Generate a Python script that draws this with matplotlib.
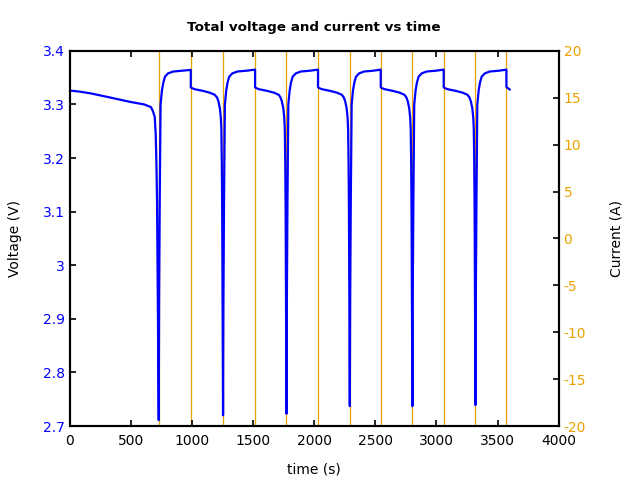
import matplotlib
matplotlib.use('Agg')
import matplotlib.pyplot as plt
from matplotlib.ticker import FuncFormatter

# voltage trace (time s, volts)
t_start = [0, 0, 80, 165, 330, 490, 610, 665, 681, 695, 703, 709, 714, 720, 725, 728]
v_start = [3.343, 3.326, 3.324, 3.321, 3.313, 3.305, 3.300, 3.295, 3.287, 3.277, 3.245, 3.19, 3.12, 2.935, 2.80, 2.711]

t_chg1 = [731, 736, 743, 754, 765, 779, 804, 845, 920, 990]
v_chg1 = [2.935, 3.12, 3.30, 3.326, 3.340, 3.352, 3.358, 3.3614, 3.363, 3.3645]
t_dis1 = [990, 1000, 1022, 1090, 1145, 1186, 1205, 1216, 1228, 1236, 1240, 1244, 1247, 1250, 1254]
v_dis1 = [3.332, 3.3305, 3.3285, 3.3253, 3.322, 3.318, 3.313, 3.306, 3.293, 3.275, 3.255, 3.19, 3.10, 2.95, 2.720]

t_chg2 = [1257, 1262, 1269, 1280, 1291, 1305, 1330, 1371, 1446, 1516]
v_chg2 = [2.93, 3.12, 3.30, 3.326, 3.341, 3.352, 3.358, 3.3615, 3.363, 3.365]
t_dis2 = [1516, 1526, 1548, 1616, 1671, 1710, 1724, 1735, 1747, 1755, 1759, 1763, 1766, 1769, 1773]
v_dis2 = [3.332, 3.3305, 3.3285, 3.3253, 3.322, 3.318, 3.313, 3.306, 3.293, 3.275, 3.255, 3.19, 3.10, 2.95, 2.723]

t_chg3 = [1776, 1781, 1788, 1799, 1810, 1824, 1849, 1890, 1965, 2031]
v_chg3 = [2.93, 3.12, 3.30, 3.326, 3.341, 3.352, 3.358, 3.3615, 3.363, 3.365]
t_dis3 = [2031, 2041, 2063, 2131, 2186, 2226, 2242, 2253, 2265, 2273, 2277, 2281, 2284, 2287, 2291]
v_dis3 = [3.332, 3.3305, 3.3285, 3.3253, 3.322, 3.318, 3.313, 3.306, 3.293, 3.275, 3.255, 3.19, 3.10, 2.95, 2.737]

t_chg4 = [2294, 2299, 2306, 2317, 2328, 2342, 2367, 2408, 2483, 2544]
v_chg4 = [2.94, 3.12, 3.30, 3.326, 3.341, 3.352, 3.358, 3.3615, 3.363, 3.365]
t_dis4 = [2544, 2554, 2576, 2644, 2699, 2738, 2754, 2765, 2777, 2785, 2789, 2793, 2796, 2799, 2803]
v_dis4 = [3.332, 3.3305, 3.3285, 3.3253, 3.322, 3.318, 3.313, 3.306, 3.293, 3.275, 3.255, 3.19, 3.10, 2.95, 2.737]

t_chg5 = [2806, 2811, 2818, 2829, 2840, 2854, 2879, 2920, 2995, 3059]
v_chg5 = [2.94, 3.12, 3.30, 3.326, 3.341, 3.352, 3.358, 3.3615, 3.363, 3.365]
t_dis5 = [3059, 3069, 3091, 3159, 3214, 3254, 3270, 3281, 3293, 3301, 3305, 3309, 3312, 3315, 3319]
v_dis5 = [3.332, 3.3305, 3.3285, 3.3253, 3.322, 3.318, 3.313, 3.306, 3.293, 3.275, 3.255, 3.19, 3.10, 2.95, 2.739]

t_chg6 = [3322, 3327, 3334, 3345, 3356, 3370, 3395, 3436, 3511, 3572]
v_chg6 = [2.94, 3.12, 3.30, 3.326, 3.341, 3.352, 3.358, 3.3615, 3.363, 3.365]
t_end = [3572, 3580, 3599]
v_end = [3.333, 3.331, 3.328]

# current steps: goes off scale, only the switching edges show
current_t = [0, 728, 990, 1254, 1516, 1773, 2031, 2291, 2544, 2803, 3059, 3319, 3572, 3599]
current_a = [-30, 30, -30, 30, -30, 30, -30, 30, -30, 30, -30, 30, -30, -30]

time_s = (t_start + t_chg1 + t_dis1 + t_chg2 + t_dis2 + t_chg3 + t_dis3
          + t_chg4 + t_dis4 + t_chg5 + t_dis5 + t_chg6 + t_end)
volt = (v_start + v_chg1 + v_dis1 + v_chg2 + v_dis2 + v_chg3 + v_dis3
        + v_chg4 + v_dis4 + v_chg5 + v_dis5 + v_chg6 + v_end)

orange = '#eba200'

fig, ax = plt.subplots(figsize=(6.4, 4.8), dpi=100)
fig.subplots_adjust(left=0.109, right=0.873, bottom=0.1125, top=0.894)
ax2 = ax.twinx()

ax2.plot(current_t, current_a, color=orange, linewidth=0.9, drawstyle='steps-post')
ax2.set_ylim(-20, 20)
ax2.set_yticks(range(-20, 21, 5))
ax2.yaxis.set_major_formatter(FuncFormatter(lambda v, p: '%d' % v))
ax2.tick_params(axis='y', direction='in', length=4, width=1.2, colors='black',
                labelcolor=orange, labelsize=10)
ax2.set_ylabel('Current (A)', fontsize=10, labelpad=17)

ax.plot(time_s, volt, color='blue', linewidth=1.6)
ax.set_xlim(0, 4000)
ax.set_ylim(2.7, 3.4)
ax.set_xticks(range(0, 4001, 500))
ax.set_yticks([2.7, 2.8, 2.9, 3.0, 3.1, 3.2, 3.3, 3.4])
ax.yaxis.set_major_formatter(FuncFormatter(lambda v, p: '%g' % round(v, 2)))
ax.tick_params(axis='y', direction='in', length=4, width=1.2, labelcolor='blue', labelsize=10)
ax.tick_params(axis='x', direction='in', length=4, width=1.2, top=True, labelsize=10, pad=6)
ax.set_xlabel('time (s)', fontsize=10, labelpad=10)
ax.set_ylabel('Voltage (V)', fontsize=10, labelpad=15)
ax.set_title('Total voltage and current vs time', fontsize=9.7, fontweight='bold', pad=14)

# voltage on top of the current edges
ax.set_zorder(ax2.get_zorder() + 1)
ax.patch.set_visible(False)

for a in (ax, ax2):
    for s in a.spines.values():
        s.set_linewidth(1.5)

fig.savefig('out.png', dpi=100)
